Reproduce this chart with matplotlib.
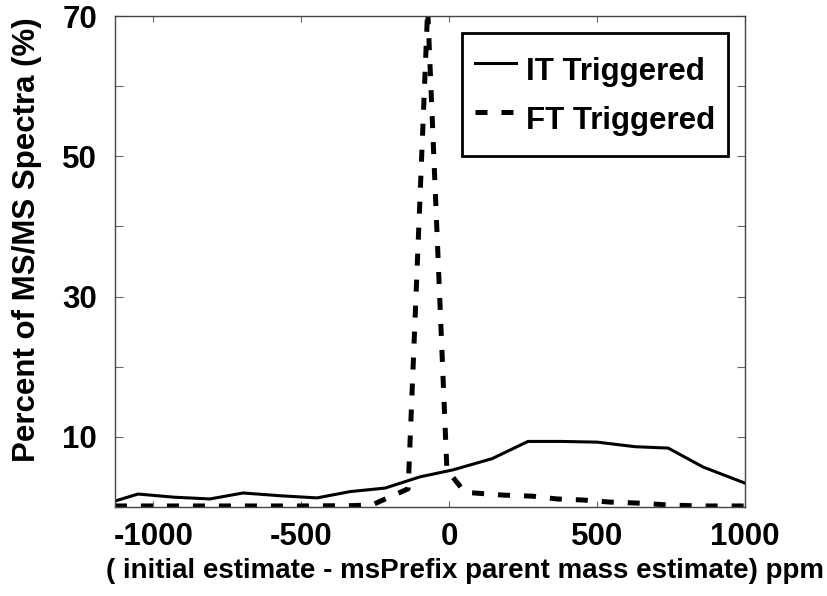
import matplotlib
matplotlib.use("Agg")
import matplotlib.pyplot as plt

plt.rcParams['font.family'] = ['Liberation Sans', 'DejaVu Sans']
plt.rcParams['font.weight'] = 'bold'
plt.rcParams['axes.unicode_minus'] = False

# ppm offsets and percentages for the two trigger modes
it_ppm = [-1130, -1052, -930, -809, -697, -569, -447, -335, -217, -99,
          13, 145, 266, 381, 500, 628, 740, 858, 1000]
it_pct = [0.85, 1.85, 1.4, 1.15, 2.0, 1.6, 1.3, 2.2, 2.7, 4.3,
          5.3, 6.9, 9.35, 9.35, 9.25, 8.6, 8.4, 5.7, 3.4]

ft_ppm = [-1130, -800, -500, -330, -261, -139, -73, -8, 53,
          182, 280, 364, 452, 544, 645, 736, 848, 1000]
ft_pct = [0.15, 0.15, 0.15, 0.2, 0.3, 2.6, 71.0, 5.3, 2.1,
          1.7, 1.55, 1.15, 1.0, 0.7, 0.55, 0.3, 0.15, 0.15]

x_ticks = [-1000, -500, 0, 500, 1000]
y_ticks = [0, 10, 20, 30, 40, 50, 60, 70]
y_tick_labels = ['', '10', '', '30', '', '50', '', '70']

fig = plt.figure(figsize=(8.27, 5.96), dpi=100)
ax = fig.add_axes([0.139, 0.1493, 0.762, 0.8238])

ax.plot(it_ppm, it_pct, '-', color='black', lw=2.2, label='IT Triggered')
ax.plot(ft_ppm, ft_pct, '--', color='black', lw=3.6, dashes=(2.4, 2.8),
        label='FT Triggered')

ax.set_xlim(-1130, 1000)
ax.set_ylim(0, 70)
ax.set_xticks(x_ticks)
ax.set_yticks(y_ticks)
ax.set_yticklabels(y_tick_labels)

for s in ax.spines.values():
    s.set_color('#444444')
    s.set_linewidth(1.0)
ax.tick_params(axis='both', direction='in', color='#666666', labelsize=22.5)
ax.tick_params(axis='y', length=6, right=True, pad=13)
ax.tick_params(axis='x', length=4, top=True, pad=11)

ax.set_xlabel('( initial estimate - msPrefix parent mass estimate) ppm',
              fontsize=20, fontweight='bold')
ax.xaxis.set_label_coords(0.556, -0.104)
ax.set_ylabel('Percent of MS/MS Spectra (%)', fontsize=22.5, fontweight='bold',
              va='center')
ax.yaxis.set_label_coords(-0.14, 0.544)

leg = ax.legend(loc='upper right', bbox_to_anchor=(0.973, 0.965),
                borderaxespad=0, fancybox=False, fontsize=22.5,
                handlelength=1.33, handleheight=2.04, handletextpad=0.32,
                labelspacing=0.0, borderpad=0.4)
leg.get_frame().set_edgecolor('black')
leg.get_frame().set_linewidth(2)
leg.get_frame().set_alpha(1)

fig.savefig('out.png', dpi=100)
